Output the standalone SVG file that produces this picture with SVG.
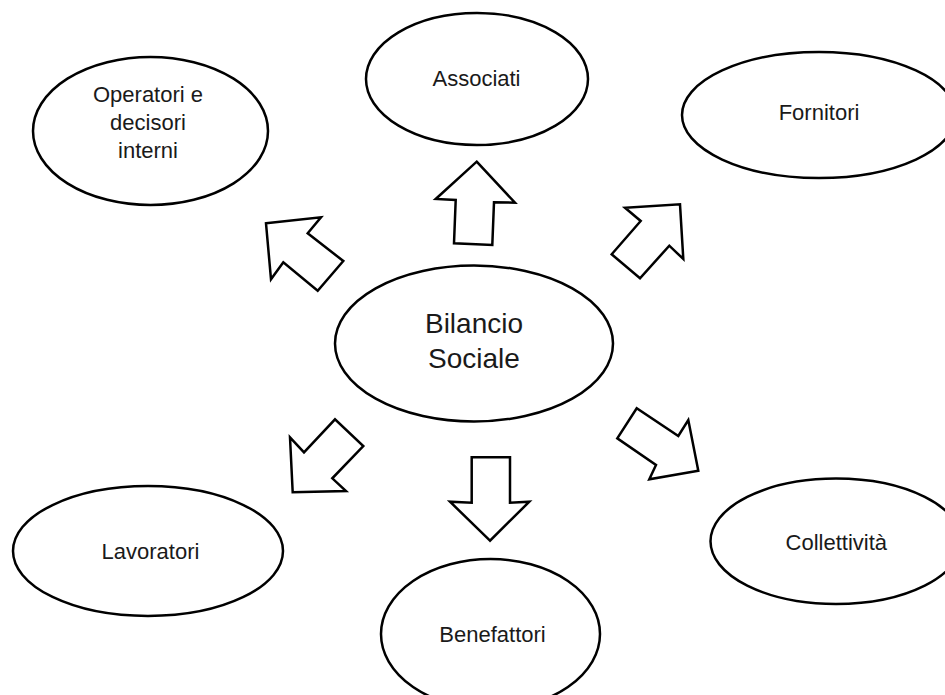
<svg xmlns="http://www.w3.org/2000/svg" width="945" height="695" viewBox="0 0 945 695">
<style>
.n{fill:#fff;stroke:#000;stroke-width:2.5}
.a{fill:#fff;stroke:#000;stroke-width:2.5;stroke-linejoin:miter}
.t{font-family:"Liberation Sans",Arial,sans-serif;font-size:22px;fill:#1a1a1a;text-anchor:middle}
.b{font-size:28px}
</style>
<rect width="945" height="695" fill="#fff"/>
<g id="operatori"><ellipse class="n" cx="150.5" cy="131" rx="117.5" ry="74"/>
<text class="t" x="148" y="102">Operatori e</text><text class="t" x="148" y="130">decisori</text><text class="t" x="148" y="158">interni</text></g>
<g id="associati"><ellipse class="n" cx="477" cy="79" rx="111" ry="66"/>
<text class="t" x="476.5" y="86">Associati</text></g>
<g id="fornitori"><ellipse class="n" cx="819" cy="115" rx="137" ry="63"/>
<text class="t" x="819" y="120">Fornitori</text></g>
<g id="bilancio"><ellipse class="n" cx="474" cy="343.5" rx="139" ry="78"/>
<text class="t b" x="474" y="333">Bilancio</text><text class="t b" x="474" y="368">Sociale</text></g>
<g id="lavoratori"><ellipse class="n" cx="148" cy="551" rx="135" ry="65"/>
<text class="t" x="150.5" y="559">Lavoratori</text></g>
<g id="benefattori"><ellipse class="n" cx="490.5" cy="634" rx="109.5" ry="75"/>
<text class="t" x="492.5" y="642">Benefattori</text></g>
<g id="collettivita"><ellipse class="n" cx="836" cy="541.3" rx="125.5" ry="62.7"/>
<text class="t" x="836.3" y="550">Collettività</text></g>
<g id="connectors">
<polygon class="a" points="476.7,161.7 515,202.7 494,202.3 492.3,245 454,243.3 455.7,200 435.7,199"/>
<polygon class="a" points="680,204.3 683.3,259 669.3,245.7 640,278.3 611.7,254.3 640.7,221 625,207.7"/>
<polygon class="a" points="266,223.3 321,217.3 307.7,233.3 343.3,261 317.7,290.7 283.3,262.3 271,279.3"/>
<polygon class="a" points="292.7,492.3 290,437.3 304,452.3 335,419.3 363.3,446 332.3,478.3 346,491"/>
<polygon class="a" points="490,540.7 450,501.7 471.7,502.7 471.7,457.3 510,457.3 510,502.7 529.3,501.7"/>
<polygon class="a" points="698.3,470.7 649.3,479.3 656,465 617.3,438.3 636.7,408.3 678.3,436 688.3,420"/>
</g>
</svg>
